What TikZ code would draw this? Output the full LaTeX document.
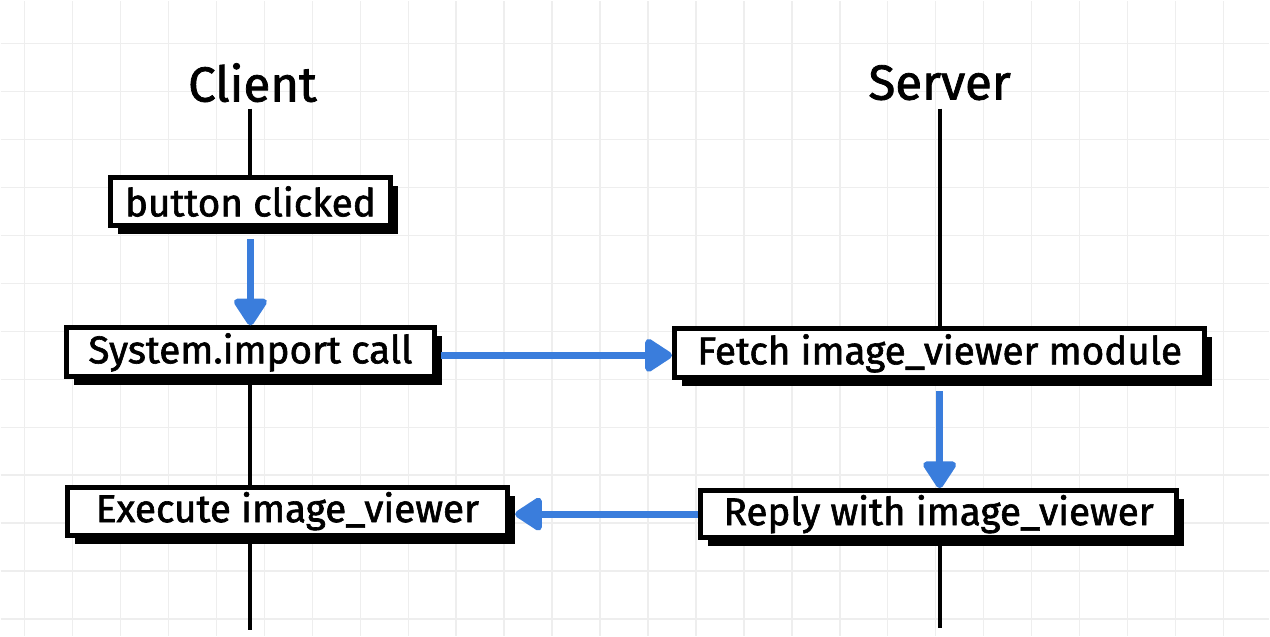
\documentclass[tikz,border=0pt]{standalone}
\usepackage{fontspec}
\setmainfont{Fira Sans}
\newfontfamily\boxfont[FakeBold=1.6]{Fira Sans}
\usetikzlibrary{arrows.meta,shadows}
\definecolor{arrowblue}{RGB}{58,125,220}
\definecolor{gridgray}{RGB}{238,238,238}
\pgfdeclarelayer{bg}
\pgfdeclarelayer{lines}
\pgfsetlayers{bg,lines,main}
\begin{document}
\begin{tikzpicture}[x=0.02cm,y=-0.02cm,
  stepbox/.style={draw=black, line width=0.1cm, fill=white, inner sep=0pt,
    font=\boxfont\fontsize{22}{25}\selectfont,
    general shadow={fill=black, shadow xshift=0.15cm, shadow yshift=-0.17cm}},
  lifeline/.style={line width=0.08cm, black},
  flow/.style={arrowblue, line width=0.14cm, -{Triangle[length=0.6cm,width=0.74cm,round]}},
  title/.style={font=\boxfont\fontsize{28}{30}\selectfont, inner sep=0pt}]
\begin{pgfonlayer}{bg}
\fill[white] (0,0) rectangle (1270,636);
\foreach \x in {24,72,...,1270} \draw[gridgray, line width=0.03cm] (\x,0) -- (\x,636);
\foreach \y in {43,91,...,636} \draw[gridgray, line width=0.03cm] (0,\y) -- (1270,\y);
\end{pgfonlayer}
\useasboundingbox (0,0) rectangle (1270,636);

\node[title] (client) at (252,82) {Client};
\node[title] (server) at (940,82) {Server};

\node[stepbox, minimum width=5.62cm, minimum height=0.98cm] (b1) at (250,201) {button clicked};
\node[stepbox, minimum width=7.38cm, minimum height=0.98cm] (b2) at (250,352) {System.import call};
\node[stepbox, minimum width=10.62cm, minimum height=0.98cm] (b3) at (940,353) {Fetch image\_viewer module};
\node[stepbox, minimum width=8.82cm, minimum height=0.96cm] (b4) at (287,511) {Execute image\_viewer};
\node[stepbox, minimum width=9.54cm, minimum height=0.94cm] (b5) at (939,514) {Reply with image\_viewer};

\coordinate (ctop) at (250,108);
\coordinate (cbot) at (250,630);
\coordinate (stop) at (940,108);
\coordinate (sbot) at (940,628);

\begin{pgfonlayer}{lines}
\draw[lifeline] (ctop) -- (b1.north);
\draw[lifeline] (b2.south) -- (b2.south |- b4.north);
\draw[lifeline] (b4.south -| b2.south) -- (cbot);
\draw[lifeline] (stop) -- (b3.north);
\draw[lifeline] (b5.south -| b3.south) -- (sbot);
\end{pgfonlayer}

\draw[flow, shorten <=0.22cm] (b1.south) -- (b2.north);
\draw[flow, shorten <=0.08cm] ([yshift=-0.06cm]b2.east) -- ([yshift=-0.06cm]b2.east -| b3.west);
\draw[flow, shorten <=0.22cm] (b3.south) -- (b3.south |- b5.north);
\draw[flow, shorten >=0.1cm] (b5.west) -- (b5.west -| b4.east);
\end{tikzpicture}
\end{document}
